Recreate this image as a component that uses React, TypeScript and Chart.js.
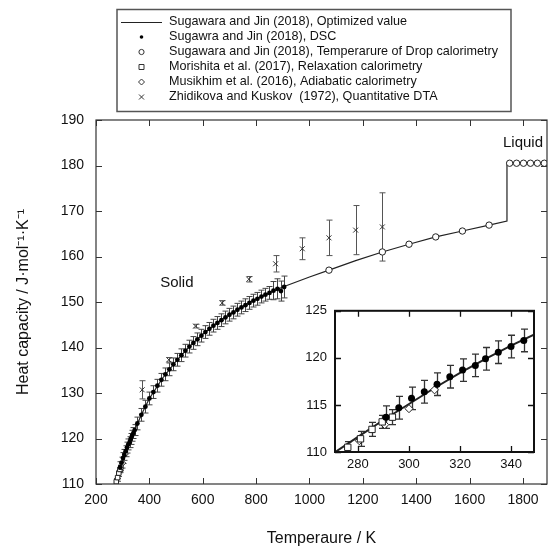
import React, { useEffect, useRef } from 'react';
import { Chart, registerables } from 'chart.js';

Chart.register(...registerables);

const FONT = "'Liberation Sans', Arial, Helvetica, sans-serif";

// ---- Data ----
// Optimized value (Sugawara and Jin 2018)
const fitT = [270, 280, 290, 300, 310, 320, 330, 340, 350, 375, 400, 450, 500, 550, 600, 650, 700, 750, 800, 850, 900, 1000, 1073, 1173, 1273, 1373, 1473, 1573, 1673, 1740, 1740, 1890];
const fitCp = [109.8, 111.6, 113.4, 115.1, 116.8, 118.4, 119.9, 121.3, 122.6, 125.8, 128.8, 133.3, 137.0, 140.2, 142.9, 145.2, 147.2, 149.0, 150.6, 152.0, 153.3, 155.5, 157.0, 159.1, 161.0, 162.7, 164.3, 165.6, 166.9, 167.8, 180.5, 180.5];

// DSC (Sugawra and Jin 2018)
const dscT = [291, 296, 301, 306, 311, 316, 321, 326, 330, 335, 340, 345, 355, 370, 385, 400, 415, 430, 445, 460, 475, 490, 505, 520, 535, 550, 565, 580, 595, 610, 625, 640, 655, 670, 685, 700, 715, 730, 745, 760, 775, 790, 805, 820, 835, 850, 865, 880, 893, 905];
const dscCp = [113.7, 114.7, 115.7, 116.4, 117.2, 118.0, 118.7, 119.2, 119.9, 120.6, 121.2, 121.85, 123.3, 125.2, 127.0, 128.8, 130.2, 131.6, 132.9, 134.1, 135.2, 136.3, 137.3, 138.3, 139.3, 140.2, 141.0, 141.8, 142.6, 143.4, 144.1, 144.8, 145.4, 146.0, 146.6, 147.2, 147.7, 148.3, 148.8, 149.3, 149.8, 150.3, 150.7, 151.2, 151.6, 152.0, 152.5, 152.9, 152.4, 153.3];
const dscErr = [1.2, 1.2, 1.2, 1.2, 1.2, 1.2, 1.2, 1.2, 1.2, 1.2, 1.2, 1.2, 1.4, 1.4, 1.4, 1.4, 1.4, 1.4, 1.4, 1.4, 1.4, 1.4, 1.4, 1.4, 1.4, 1.4, 1.4, 1.4, 1.4, 1.4, 1.4, 1.4, 1.4, 1.4, 1.4, 1.4, 1.4, 1.4, 1.4, 1.4, 1.4, 1.4, 1.4, 1.4, 1.4, 1.4, 2.0, 2.2, 2.2, 2.4];

// Drop calorimetry temperatures (solid) and liquid
const dropT = [1073, 1273, 1373, 1473, 1573, 1673];
const dropCp = [157.0, 161.0, 162.7, 164.3, 165.6, 166.9];
const liqT = [1750, 1776, 1802, 1828, 1854, 1880];
const liqCp = [180.5, 180.5, 180.5, 180.5, 180.5, 180.5];

// Morishita et al. (2017), relaxation calorimetry
const morT = [276, 281, 285.5, 289.5, 293.5];
const morCp = [110.5, 111.4, 112.4, 113.2, 113.7];
const morErr = [0.6, 0.8, 0.75, 0.7, 0.8];

// Musikhim et al. (2016), adiabatic calorimetry
const musT = [280.5, 290.5, 300, 310];
const musCp = [111.2, 112.9, 114.6, 116.6];

// Zhidikova and Kuskov (1972), quantitative DTA
const zhiT = [373, 473, 573, 673, 773, 873, 973, 1073, 1173, 1273];
const zhiCp = [130.7, 137.3, 144.7, 149.8, 155.0, 158.4, 161.7, 164.1, 165.8, 166.5];
const zhiErr = [2.0, 0.5, 0.4, 0.5, 0.6, 1.8, 2.4, 3.9, 5.4, 7.5];

const legendLabels = [
  'Sugawara and Jin (2018), Optimized value',
  'Sugawra and Jin (2018), DSC',
  'Sugawara and Jin (2018), Temperarure of Drop calorimetry',
  'Morishita et al. (2017), Relaxation calorimetry',
  'Musikhim et al. (2016), Adiabatic calorimetry',
  'Zhidikova and Kuskov  (1972), Quantitative DTA',
];

const mainXTicks = [200, 400, 600, 800, 1000, 1200, 1400, 1600, 1800];
const mainYTicks = [110, 120, 130, 140, 150, 160, 170, 180, 190];
const insetXTicks = [280, 300, 320, 340];
const insetYTicks = [110, 115, 120, 125];

const xTitle = 'Temperaure / K';
const yTitle = 'Heat capacity / J\u00B7mol\u207B\u00B9\u00B7K\u207B\u00B9';
const solidLabel = 'Solid';
const liquidLabel = 'Liquid';

const zip = (xs: number[], ys: number[]) => xs.map((v, i) => ({ x: v, y: ys[i] }));
const plain = (v: any) => String(v);

// ---- Plugins ----
const errorBarPlugin = {
  id: 'errbars',
  beforeDatasetsDraw(chart: any) {
    const { ctx, chartArea: a, scales } = chart;
    const x = scales.x, y = scales.y;
    ctx.save();
    ctx.beginPath();
    ctx.rect(a.left, a.top, a.right - a.left, a.bottom - a.top);
    ctx.clip();
    chart.data.datasets.forEach((ds: any) => {
      if (!ds.errors) return;
      ctx.strokeStyle = ds.errorColor || '#444';
      ctx.lineWidth = ds.errorWidth || 1;
      const cap = ds.capWidth || 6;
      ds.data.forEach((p: any, j: number) => {
        const e = ds.errors[j];
        if (!e) return;
        const px = Math.round(x.getPixelForValue(p.x)) + 0.5;
        const y1 = y.getPixelForValue(p.y - e);
        const y2 = y.getPixelForValue(p.y + e);
        ctx.beginPath();
        ctx.moveTo(px, y1); ctx.lineTo(px, y2);
        ctx.moveTo(px - cap / 2, y1); ctx.lineTo(px + cap / 2, y1);
        ctx.moveTo(px - cap / 2, y2); ctx.lineTo(px + cap / 2, y2);
        ctx.stroke();
      });
    });
    ctx.restore();
  },
};

const framePlugin = {
  id: 'frame',
  beforeDraw(chart: any, _args: any, opts: any) {
    if (!opts.fill) return;
    const { ctx, chartArea: a } = chart;
    ctx.save();
    ctx.fillStyle = opts.fill;
    ctx.fillRect(a.left, a.top, a.right - a.left, a.bottom - a.top);
    ctx.restore();
  },
  afterDatasetsDraw(chart: any, _args: any, opts: any) {
    const { ctx, chartArea: a, scales } = chart;
    const x = scales.x, y = scales.y;
    const L = opts.tick || 6;
    ctx.save();
    ctx.strokeStyle = opts.color || '#333';
    ctx.lineWidth = opts.width || 1;
    ctx.beginPath();
    x.ticks.forEach((t: any) => {
      const px = Math.round(x.getPixelForValue(t.value)) + 0.5;
      ctx.moveTo(px, a.bottom); ctx.lineTo(px, a.bottom - L);
      ctx.moveTo(px, a.top); ctx.lineTo(px, a.top + L);
    });
    y.ticks.forEach((t: any) => {
      const py = Math.round(y.getPixelForValue(t.value)) + 0.5;
      ctx.moveTo(a.left, py); ctx.lineTo(a.left + L, py);
      ctx.moveTo(a.right, py); ctx.lineTo(a.right - L, py);
    });
    ctx.stroke();
    ctx.lineWidth = opts.frameWidth || 1;
    ctx.strokeRect(a.left, a.top, a.right - a.left, a.bottom - a.top);
    ctx.restore();
  },
};

function drawMarker(ctx: CanvasRenderingContext2D, kind: string, cx: number, cy: number) {
  ctx.beginPath();
  if (kind === 'dot') {
    ctx.arc(cx, cy, 1.8, 0, Math.PI * 2);
    ctx.fillStyle = '#000';
    ctx.fill();
    return;
  }
  if (kind === 'circle') ctx.arc(cx, cy, 2.6, 0, Math.PI * 2);
  if (kind === 'square') ctx.rect(cx - 2.5, cy - 2.5, 5, 5);
  if (kind === 'diamond') {
    ctx.moveTo(cx, cy - 3); ctx.lineTo(cx + 3, cy); ctx.lineTo(cx, cy + 3); ctx.lineTo(cx - 3, cy); ctx.closePath();
  }
  if (kind === 'cross') {
    ctx.moveTo(cx - 2.5, cy - 2.5); ctx.lineTo(cx + 2.5, cy + 2.5);
    ctx.moveTo(cx + 2.5, cy - 2.5); ctx.lineTo(cx - 2.5, cy + 2.5);
  }
  ctx.strokeStyle = '#333';
  ctx.lineWidth = 1;
  ctx.stroke();
}

const legendPlugin = {
  id: 'boxLegend',
  afterDraw(chart: any) {
    const ctx = chart.ctx as CanvasRenderingContext2D;
    ctx.save();
    ctx.strokeStyle = '#555';
    ctx.lineWidth = 1.5;
    ctx.strokeRect(117, 9.5, 394, 102);
    ctx.font = `12.6px ${FONT}`;
    ctx.textBaseline = 'middle';
    ctx.textAlign = 'left';
    const kinds = ['line', 'dot', 'circle', 'square', 'diamond', 'cross'];
    legendLabels.forEach((lab, i) => {
      const yy = 22 + i * 15;
      ctx.fillStyle = '#111';
      ctx.fillText(lab, 169, yy);
      if (kinds[i] === 'line') {
        ctx.beginPath();
        ctx.strokeStyle = '#222';
        ctx.lineWidth = 1;
        ctx.moveTo(121, yy + 0.5); ctx.lineTo(162, yy + 0.5);
        ctx.stroke();
      } else {
        drawMarker(ctx, kinds[i], 141.5, yy);
      }
    });
    // phase labels
    const { scales } = chart;
    ctx.font = `15px ${FONT}`;
    ctx.textAlign = 'center';
    ctx.fillStyle = '#111';
    ctx.fillText(solidLabel, scales.x.getPixelForValue(503), scales.y.getPixelForValue(154.2));
    ctx.fillText(liquidLabel, scales.x.getPixelForValue(1800), scales.y.getPixelForValue(185));
    ctx.restore();
  },
};

function buildDatasets(inset: boolean) {
  return [
    {
      label: legendLabels[1],
      data: zip(dscT, dscCp),
      errors: dscErr,
      errorColor: inset ? '#333' : '#444',
      errorWidth: inset ? 1.3 : 1,
      capWidth: inset ? 7 : 6,
      pointStyle: 'circle',
      pointRadius: inset ? 3.5 : 2.4,
      backgroundColor: '#000',
      borderColor: '#000',
      borderWidth: 0,
      showLine: false,
    },
    {
      label: legendLabels[3],
      data: zip(morT, morCp),
      errors: morErr,
      errorColor: inset ? '#333' : '#555',
      errorWidth: inset ? 1.3 : 1,
      capWidth: inset ? 7 : 5,
      pointStyle: 'rect',
      pointRadius: inset ? 4.5 : 3.2,
      backgroundColor: '#fff',
      borderColor: '#222',
      borderWidth: 1,
      showLine: false,
    },
    {
      label: legendLabels[4],
      data: zip(musT, musCp),
      pointStyle: 'rectRot',
      pointRadius: inset ? 4 : 3,
      backgroundColor: '#fff',
      borderColor: '#222',
      borderWidth: 1,
      showLine: false,
    },
    {
      label: legendLabels[5],
      data: zip(zhiT, zhiCp),
      errors: zhiErr,
      errorColor: '#555',
      errorWidth: 1,
      capWidth: 6,
      pointStyle: 'crossRot',
      pointRadius: 3.5,
      backgroundColor: '#333',
      borderColor: '#333',
      borderWidth: 1,
      showLine: false,
    },
    {
      label: legendLabels[2],
      data: zip(dropT, dropCp),
      pointStyle: 'circle',
      pointRadius: 3.2,
      backgroundColor: '#fff',
      borderColor: '#222',
      borderWidth: 1,
      showLine: false,
    },
    {
      label: legendLabels[2] + ' (liquid)',
      data: zip(liqT, liqCp),
      pointStyle: 'circle',
      pointRadius: 3.2,
      backgroundColor: '#fff',
      borderColor: '#222',
      borderWidth: 1,
      showLine: false,
    },
    {
      label: legendLabels[0],
      data: zip(fitT, fitCp),
      showLine: true,
      pointRadius: 0,
      borderColor: '#222',
      borderWidth: inset ? 2 : 1.2,
      backgroundColor: '#222',
      tension: 0,
    },
  ];
}

function setTicks(values: number[]) {
  return (scale: any) => {
    scale.ticks = values.map((v) => ({ value: v }));
  };
}

export default function App() {
  const mainRef = useRef<HTMLCanvasElement>(null);
  const insetRef = useRef<HTMLCanvasElement>(null);

  useEffect(() => {
    const main = new Chart(mainRef.current as HTMLCanvasElement, {
      type: 'scatter',
      data: { datasets: buildDatasets(false) as any },
      options: {
        responsive: false,
        animation: false,
        events: [],
        layout: { padding: { top: 120, right: 2, left: 0, bottom: 0 } },
        plugins: {
          legend: { display: false },
          tooltip: { enabled: false },
          frame: { color: '#333', width: 1, frameWidth: 1.2, tick: 6 },
        } as any,
        scales: {
          x: {
            type: 'linear',
            min: 200,
            max: 1890,
            afterBuildTicks: setTicks(mainXTicks),
            afterFit: (s: any) => { s.height = 64; },
            grid: { display: false, drawTicks: false },
            border: { display: false },
            ticks: { color: '#111', font: { family: FONT, size: 14 }, padding: 8, maxRotation: 0, autoSkip: false, callback: plain },
            title: { display: true, text: xTitle, color: '#111', font: { family: FONT, size: 16 }, padding: { top: 0, bottom: 0 } },
          },
          y: {
            type: 'linear',
            min: 110,
            max: 190,
            afterBuildTicks: setTicks(mainYTicks),
            afterFit: (s: any) => { s.width = 96; },
            grid: { display: false, drawTicks: false },
            border: { display: false },
            ticks: { color: '#111', font: { family: FONT, size: 14 }, padding: 12, autoSkip: false, callback: plain },
            title: { display: true, text: yTitle, color: '#111', font: { family: FONT, size: 16 }, padding: { top: 14, bottom: 0 } },
          },
        },
      } as any,
      plugins: [errorBarPlugin, framePlugin, legendPlugin] as any,
    });

    const inset = new Chart(insetRef.current as HTMLCanvasElement, {
      type: 'scatter',
      data: { datasets: buildDatasets(true) as any },
      options: {
        responsive: false,
        animation: false,
        events: [],
        layout: { padding: { top: 8, right: 11, left: 0, bottom: 0 } },
        plugins: {
          legend: { display: false },
          tooltip: { enabled: false },
          frame: { color: '#111', width: 1.3, frameWidth: 2, tick: 6, fill: '#fff' },
        } as any,
        scales: {
          x: {
            type: 'linear',
            min: 271,
            max: 349,
            afterBuildTicks: setTicks(insetXTicks),
            afterFit: (s: any) => { s.height = 28; },
            grid: { display: false, drawTicks: false },
            border: { display: false },
            ticks: { color: '#111', font: { family: FONT, size: 13 }, padding: 5, maxRotation: 0, autoSkip: false, callback: plain },
          },
          y: {
            type: 'linear',
            min: 110,
            max: 125,
            afterBuildTicks: setTicks(insetYTicks),
            afterFit: (s: any) => { s.width = 45; },
            grid: { display: false, drawTicks: false },
            border: { display: false },
            ticks: { color: '#111', font: { family: FONT, size: 13 }, padding: 8, autoSkip: false, callback: plain },
          },
        },
      } as any,
      plugins: [errorBarPlugin, framePlugin] as any,
    });

    return () => {
      main.destroy();
      inset.destroy();
    };
  }, []);

  return (
    <div style={{ position: 'fixed', left: 0, top: 0, width: 552, height: 548, background: '#fff' }}>
      <canvas ref={mainRef} width={552} height={548} style={{ position: 'absolute', left: 0, top: 0, width: 552, height: 548 }} />
      <canvas ref={insetRef} width={255} height={185} style={{ position: 'absolute', left: 290, top: 295, width: 255, height: 185 }} />
    </div>
  );
}
